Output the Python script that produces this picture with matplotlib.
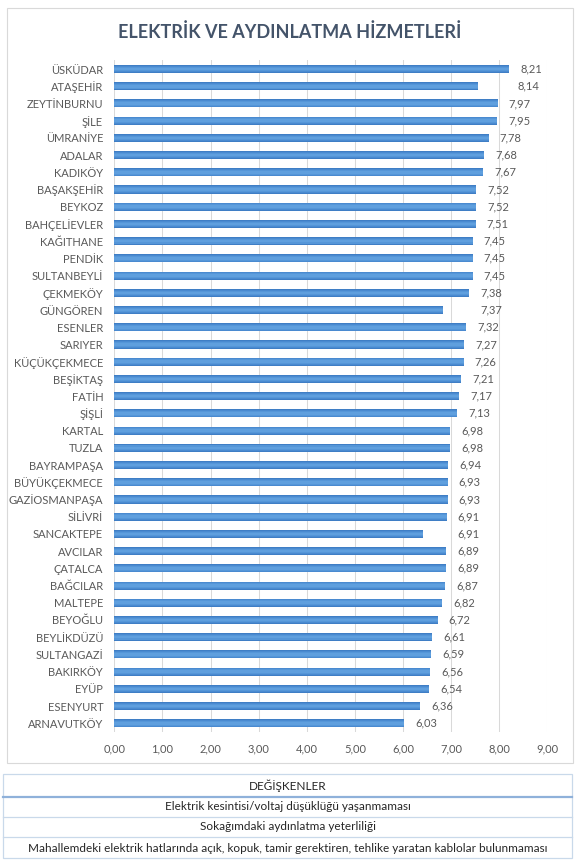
import matplotlib
matplotlib.use("Agg")
import matplotlib.pyplot as plt
from matplotlib.patches import Rectangle
from matplotlib.lines import Line2D

plt.rcParams['font.family'] = ['Lato', 'DejaVu Sans']

# ---- data ----
districts = ["ÜSKÜDAR", "ATAŞEHİR", "ZEYTİNBURNU", "ŞİLE", "ÜMRANİYE", "ADALAR", "KADIKÖY",
             "BAŞAKŞEHİR", "BEYKOZ", "BAHÇELİEVLER", "KAĞITHANE", "PENDİK", "SULTANBEYLİ",
             "ÇEKMEKÖY", "GÜNGÖREN", "ESENLER", "SARIYER", "KÜÇÜKÇEKMECE", "BEŞİKTAŞ", "FATİH",
             "ŞİŞLİ", "KARTAL", "TUZLA", "BAYRAMPAŞA", "BÜYÜKÇEKMECE", "GAZİOSMANPAŞA", "SİLİVRİ",
             "SANCAKTEPE", "AVCILAR", "ÇATALCA", "BAĞCILAR", "MALTEPE", "BEYOĞLU", "BEYLİKDÜZÜ",
             "SULTANGAZİ", "BAKIRKÖY", "EYÜP", "ESENYURT", "ARNAVUTKÖY"]
# values printed as data labels
label_values = [8.21, 8.14, 7.97, 7.95, 7.78, 7.68, 7.67, 7.52, 7.52, 7.51, 7.45, 7.45, 7.45,
                7.38, 7.37, 7.32, 7.27, 7.26, 7.21, 7.17, 7.13, 6.98, 6.98, 6.94, 6.93, 6.93,
                6.91, 6.91, 6.89, 6.89, 6.87, 6.82, 6.72, 6.61, 6.59, 6.56, 6.54, 6.36, 6.03]
# bar lengths as drawn in the picture (three bars are drawn shorter than their labels)
bar_values = [8.21, 7.55, 7.97, 7.95, 7.78, 7.68, 7.67, 7.52, 7.52, 7.51, 7.45, 7.45, 7.45,
              7.38, 6.84, 7.32, 7.27, 7.26, 7.21, 7.17, 7.13, 6.98, 6.98, 6.94, 6.93, 6.93,
              6.91, 6.41, 6.89, 6.89, 6.87, 6.82, 6.72, 6.61, 6.59, 6.56, 6.54, 6.36, 6.03]
x_ticks = [0, 1, 2, 3, 4, 5, 6, 7, 8, 9]
x_tick_labels = ["0,00", "1,00", "2,00", "3,00", "4,00", "5,00", "6,00", "7,00", "8,00", "9,00"]
title = "ELEKTRİK VE AYDINLATMA HİZMETLERİ"
table_header = "DEĞİŞKENLER"
table_rows = ["Elektrik kesintisi/voltaj düşüklüğü yaşanmaması",
              "Sokağımdaki aydınlatma yeterliliği",
              "Mahallemdeki elektrik hatlarında açık, kopuk, tamir gerektiren, tehlike yaratan kablolar bulunmaması"]

W, H = 583, 868
fig = plt.figure(figsize=(W / 100, H / 100), dpi=100)

def fx(px):
    return px / W

def fy(py):
    return 1 - py / H

# chart frame
fig.patches.append(Rectangle((fx(6.5), fy(762.5)), fx(573) - fx(6.5), fy(7.5) - fy(762.5),
                             transform=fig.transFigure, fill=False, edgecolor='#D9D9D9',
                             linewidth=0.8))

ax = fig.add_axes([fx(114.3), fy(731.9), fx(547.3) - fx(114.3), fy(60.4) - fy(731.9)])
ypos = list(range(len(districts)))
# soft gradient look: stacked bars of decreasing thickness
for h, c in [(0.47, '#3F7EC5'), (0.38, '#4A8AD0'), (0.27, '#5596D8'), (0.15, '#5F9FDE')]:
    ax.barh(ypos, bar_values, height=h, color=c, zorder=3, linewidth=0)
for y, v, lv in zip(ypos, bar_values, label_values):
    ax.annotate(f"{lv:.2f}".replace('.', ','), xy=(lv, y), xytext=(8, 0),
                textcoords='offset points', ha='left', va='center',
                fontsize=8, color='#595959')
ax.set_xlim(0, 9)
ax.set_ylim(len(districts) - 0.5, -0.5)
ax.set_xticks(x_ticks)
ax.set_xticklabels(x_tick_labels)
ax.set_yticks(ypos)
ax.set_yticklabels(districts)
ax.tick_params(axis='both', length=0, labelsize=8, labelcolor='#595959')
ax.tick_params(axis='y', pad=8)
ax.tick_params(axis='x', pad=8)
ax.grid(axis='x', color='#D9D9D9', linewidth=0.75, zorder=0)
for s in ax.spines.values():
    s.set_visible(False)

fig.text(fx(290), fy(32), title, ha='center', va='center', fontsize=13,
         fontweight='bold', color='#44546A')

# table
tl, tr = 3, 572
ttop, hsep, r1, r2, tbot = 774, 797, 817, 837, 858
fig.patches.append(Rectangle((fx(tl), fy(tbot)), fx(tr) - fx(tl), fy(ttop) - fy(tbot),
                             transform=fig.transFigure, fill=False, edgecolor='#C9D9EA',
                             linewidth=0.9))
fig.add_artist(Line2D([fx(tl), fx(tr)], [fy(hsep), fy(hsep)], transform=fig.transFigure,
                      color='#8FB1DA', linewidth=1.6))
for yy in (r1, r2):
    fig.add_artist(Line2D([fx(tl), fx(tr)], [fy(yy), fy(yy)], transform=fig.transFigure,
                          color='#C9D9EA', linewidth=0.9))
cx = (tl + tr) / 2
fig.text(fx(cx), fy(786), table_header, ha='center', va='center', fontsize=8.5, color='#262626')
for yc, t in zip((807, 827, 848), table_rows):
    fig.text(fx(cx), fy(yc), t, ha='center', va='center', fontsize=8.5, color='#262626')

fig.savefig("out.png", dpi=100)
